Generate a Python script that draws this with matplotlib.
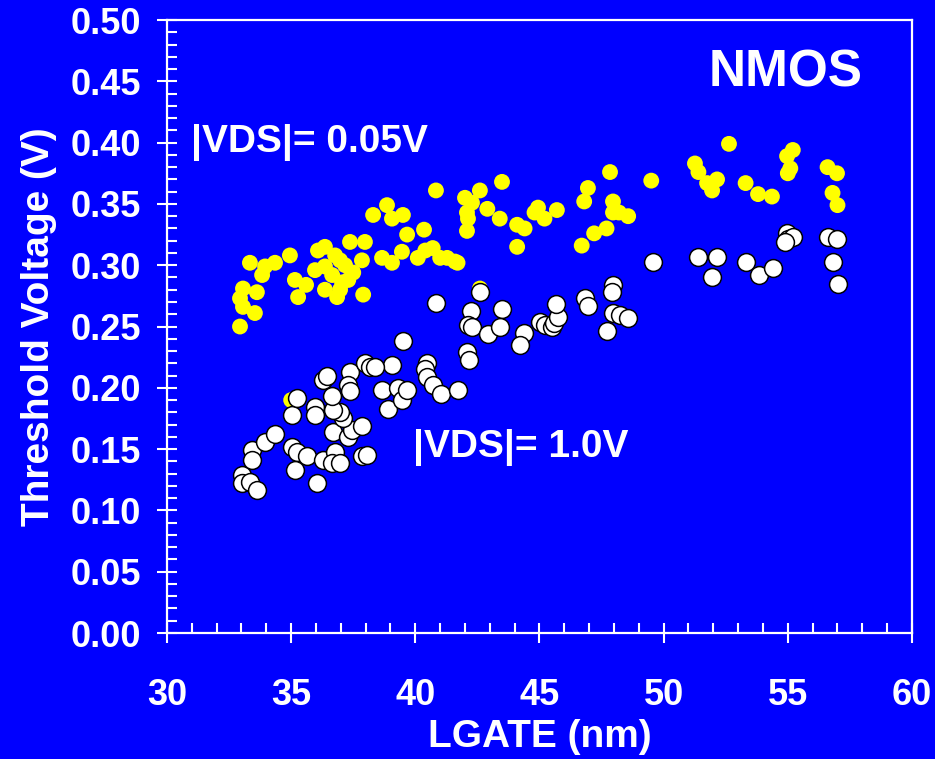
import matplotlib.pyplot as plt
from matplotlib.ticker import MultipleLocator

# |VDS| = 0.05 V (yellow)
lin_lgate = [32.94, 32.94, 33.06, 33.06, 33.54, 33.62, 33.34, 33.95, 34.35, 33.83,
             34.95, 35.15, 35.6, 35.28, 35.96, 36.08, 36.36, 36.36, 36.85, 36.65,
             36.77, 37.17, 37.37, 37.97, 37.85, 37.5, 37.3, 37.9, 37.05, 36.36,
             36.97, 36.97, 38.66, 39.06, 38.86, 39.06, 39.5, 39.67, 40.35, 39.46,
             38.3, 40.1, 40.7, 40.4, 41.0, 41.28, 41.6, 41.7, 40.83, 43.49,
             42.6, 42.0, 42.28, 42.08, 42.12, 42.08, 42.9, 43.4, 44.1, 44.4,
             44.1, 44.94, 45.2, 45.7, 44.8, 47.84, 46.95, 46.8, 47.96, 47.96,
             48.2, 48.57, 47.7, 47.2, 46.7, 49.5, 51.26, 51.4, 51.75, 52.15,
             51.95, 52.63, 53.3, 53.8, 54.36, 55.2, 54.97, 55.1, 55.0, 56.6,
             56.98, 56.8, 57.0, 35.0, 42.6]
lin_vt = [0.250, 0.273, 0.281, 0.266, 0.261, 0.278, 0.302, 0.299, 0.302, 0.292,
          0.308, 0.288, 0.284, 0.274, 0.296, 0.312, 0.315, 0.280, 0.274, 0.292,
          0.308, 0.300, 0.319, 0.319, 0.304, 0.294, 0.288, 0.276, 0.286, 0.299,
          0.304, 0.280, 0.306, 0.302, 0.349, 0.338, 0.341, 0.325, 0.329, 0.311,
          0.341, 0.306, 0.314, 0.312, 0.306, 0.306, 0.303, 0.302, 0.361, 0.368,
          0.361, 0.355, 0.351, 0.343, 0.338, 0.328, 0.346, 0.338, 0.333, 0.330,
          0.315, 0.347, 0.338, 0.345, 0.343, 0.376, 0.363, 0.352, 0.352, 0.343,
          0.343, 0.340, 0.330, 0.326, 0.316, 0.369, 0.383, 0.376, 0.367, 0.370,
          0.361, 0.399, 0.367, 0.358, 0.356, 0.394, 0.389, 0.379, 0.375, 0.380,
          0.375, 0.359, 0.349, 0.190, 0.281]

# |VDS| = 1.0 V (white)
sat_lgate = [33.02, 33.02, 33.34, 33.62, 33.42, 33.42, 33.95, 34.35, 35.03, 35.24,
             35.64, 35.15, 36.04, 36.28, 36.77, 36.65, 36.97, 37.85, 38.05, 36.69,
             37.29, 37.45, 37.85, 37.09, 36.97, 36.69, 36.65, 35.96, 35.96, 35.03,
             35.24, 36.28, 36.44, 37.37, 37.29, 37.37, 37.97, 38.17, 38.66, 38.9,
             39.06, 38.37, 39.3, 39.46, 39.67, 39.5, 40.47, 40.39, 40.47, 40.71,
             41.03, 41.72, 40.83, 42.08, 42.16, 42.6, 42.24, 43.49, 42.12, 42.28,
             42.93, 43.41, 44.38, 44.22, 45.02, 45.22, 45.5, 45.6, 45.75, 45.67,
             46.83, 46.95, 47.96, 47.92, 47.96, 48.24, 48.57, 47.72, 49.57, 51.38,
             52.15, 51.95, 53.3, 53.84, 54.4, 54.97, 55.0, 55.2, 54.9, 56.6,
             56.98, 56.82, 57.02]
sat_vt = [0.129, 0.122, 0.123, 0.117, 0.149, 0.141, 0.156, 0.162, 0.152, 0.148,
          0.144, 0.133, 0.122, 0.141, 0.148, 0.139, 0.139, 0.144, 0.145, 0.164,
          0.160, 0.166, 0.169, 0.175, 0.180, 0.182, 0.193, 0.184, 0.178, 0.178,
          0.192, 0.206, 0.210, 0.213, 0.202, 0.197, 0.220, 0.217, 0.198, 0.183,
          0.219, 0.217, 0.200, 0.190, 0.198, 0.238, 0.220, 0.215, 0.209, 0.202,
          0.195, 0.198, 0.269, 0.229, 0.223, 0.278, 0.263, 0.264, 0.251, 0.250,
          0.244, 0.250, 0.245, 0.235, 0.254, 0.251, 0.250, 0.253, 0.258, 0.268,
          0.273, 0.267, 0.284, 0.278, 0.261, 0.259, 0.257, 0.246, 0.303, 0.307,
          0.307, 0.290, 0.303, 0.292, 0.298, 0.326, 0.321, 0.323, 0.319, 0.323,
          0.321, 0.303, 0.285]

BLUE = '#0000FF'
plt.rcParams['font.family'] = ['Liberation Sans', 'DejaVu Sans']
plt.rcParams['font.weight'] = 'bold'

fig = plt.figure(figsize=(9.35, 7.59), dpi=100, facecolor=BLUE)
ax = fig.add_axes([0.1786, 0.166, 0.7968, 0.8076])
ax.set_facecolor(BLUE)

ax.scatter(lin_lgate, lin_vt, s=130, color='#FFFF00', edgecolors='none', zorder=3)
ax.scatter(sat_lgate, sat_vt, s=165, color='white', edgecolors='black',
           linewidths=1.1, zorder=4)

ax.set_xlim(30, 60)
ax.set_ylim(0, 0.5)
ax.xaxis.set_major_locator(MultipleLocator(5))
ax.xaxis.set_minor_locator(MultipleLocator(1))
ax.yaxis.set_major_locator(MultipleLocator(0.05))
ax.yaxis.set_minor_locator(MultipleLocator(0.01))
ax.xaxis.set_major_formatter(plt.FuncFormatter(lambda v, p: f"{v:.0f}"))
ax.yaxis.set_major_formatter(plt.FuncFormatter(lambda v, p: f"{v:.2f}"))

for s in ax.spines.values():
    s.set_color('white')
    s.set_linewidth(1.6)

ax.tick_params(which='major', direction='inout', length=15, width=1.5,
               colors='white', labelsize=26)
ax.tick_params(axis='y', which='major', pad=11)
ax.tick_params(axis='x', which='major', pad=25)
ax.tick_params(which='minor', direction='in', length=7, width=1.5, colors='white')
for lbl in ax.get_xticklabels() + ax.get_yticklabels():
    lbl.set_fontweight('bold')

ax.set_xlabel('LGATE (nm)', fontsize=28, fontweight='bold', color='white', labelpad=4)
ax.set_ylabel('Threshold Voltage (V)', fontsize=28, fontweight='bold', color='white', labelpad=10)

ax.text(54.9, 0.457, 'NMOS', fontsize=37, fontweight='bold', color='white',
        ha='center', va='center')
ax.text(30.97, 0.400, '|VDS|= 0.05V', fontsize=28, fontweight='bold', color='white',
        ha='left', va='center')
ax.text(39.9, 0.151, '|VDS|= 1.0V', fontsize=28, fontweight='bold', color='white',
        ha='left', va='center')

fig.savefig('out.png', dpi=100, facecolor=BLUE)
